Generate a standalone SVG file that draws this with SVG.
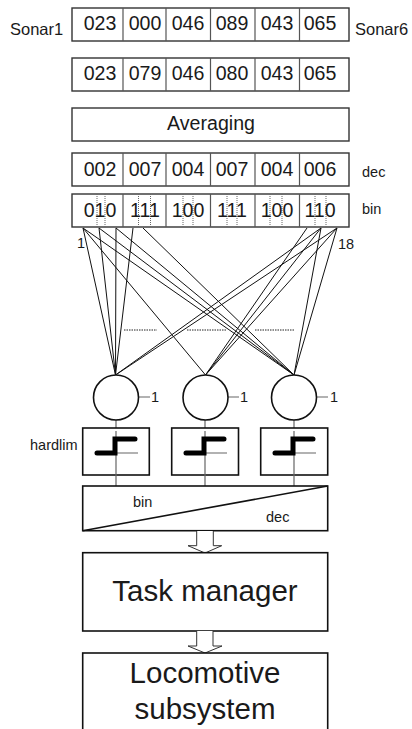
<svg xmlns="http://www.w3.org/2000/svg" width="412" height="729" viewBox="0 0 412 729">
<style>
text{font-family:"Liberation Sans",Arial,sans-serif;fill:#1a1a1a}
.d{font-size:19.600px;text-anchor:middle}
.s{font-size:14.500px}
.l{font-size:29.500px;text-anchor:middle}
.b{fill:#fff;stroke:#333;stroke-width:1.400}
.v{stroke:#555;stroke-width:1.200;fill:none}
.o{stroke:#666;stroke-width:1;stroke-dasharray:1 1;fill:none}
.c{stroke:#111;stroke-width:1;fill:none}
.k{fill:#fff;stroke:#111;stroke-width:1.600}
.g{stroke:#666;stroke-width:1.200;fill:none}
.t{stroke:#000;stroke-width:5;stroke-linecap:round;fill:none}
.a{fill:#fff;stroke:#333;stroke-width:1}
</style>
<g id="connectors">
<path class="c" d="M83 228L115.500 375M99 228L115.500 375M116 228L115.500 375M133 228L115.500 375M321 228L115.500 375M337 228L115.500 375"/>
<path class="c" d="M83 228L205.500 375M307 228L205.500 375M321 228L205.500 375M337 228L205.500 375"/>
<path class="c" d="M83 228L294 375M99 228L294 375M116 228L294 375M143 228L294 375M321 228L294 375M337 228L294 375"/>
<path d="M124 330H157M187 330H226M255 330H295" stroke="#222" stroke-width="1" stroke-dasharray="1.500 1" fill="none"/>
</g>
<g id="sonar-row"><rect class="b" x="72" y="8" width="277" height="33"/><path class="v" d="M123 8V41M166 8V41M210.500 8V41M255 8V41M299.500 8V41"/>
<text class="d" x="100" y="29.500">023</text><text class="d" x="145" y="29.500">000</text><text class="d" x="188" y="29.500">046</text><text class="d" x="232" y="29.500">089</text><text class="d" x="277" y="29.500">043</text><text class="d" x="320" y="29.500">065</text></g>
<text font-size="16.500" x="10" y="35">Sonar1</text>
<text font-size="16.500" x="355" y="35">Sonar6</text>
<g id="filtered-row"><rect class="b" x="72" y="58" width="277" height="33"/><path class="v" d="M123 58V91M166 58V91M210.500 58V91M255 58V91M299.500 58V91"/>
<text class="d" x="100" y="79.500">023</text><text class="d" x="145" y="79.500">079</text><text class="d" x="188" y="79.500">046</text><text class="d" x="232" y="79.500">080</text><text class="d" x="277" y="79.500">043</text><text class="d" x="320" y="79.500">065</text></g>
<g id="averaging"><rect class="b" x="72" y="108" width="277" height="33"/><text class="d" x="211" y="129.500">Averaging</text></g>
<g id="dec-row"><rect class="b" x="72" y="153" width="277" height="33"/><path class="v" d="M123 153V186M166 153V186M210.500 153V186M255 153V186M299.500 153V186"/>
<text class="d" x="100" y="176">002</text><text class="d" x="145" y="176">007</text><text class="d" x="188" y="176">004</text><text class="d" x="232" y="176">007</text><text class="d" x="277" y="176">004</text><text class="d" x="320" y="176">006</text></g>
<text class="s" x="362" y="177">dec</text>
<g id="bin-row"><rect class="b" x="72" y="194" width="277" height="33"/><path class="v" d="M123 194V227M166 194V227M210.500 194V227M255 194V227M299.500 194V227"/>
<path class="o" d="M97 194V227M105 194V227M138.500 194V227M150.500 194V227M183 194V227M193 194V227M227 194V227M237 194V227M270 194V227M282 194V227M315 194V227M326 194V227"/>
<text class="d" x="100" y="217">010</text><text class="d" x="145" y="217">111</text><text class="d" x="188" y="217">100</text><text class="d" x="232" y="217">111</text><text class="d" x="277" y="217">100</text><text class="d" x="320" y="217">110</text></g>
<text class="s" x="362" y="214">bin</text>
<text class="s" x="77" y="248">1</text>
<text class="s" x="338" y="249">18</text>
<g id="neuron-1"><path class="g" d="M116 420V428M139 397H150"/><circle class="k" cx="116" cy="397.500" r="22.500"/><text class="s" x="151" y="402">1</text></g>
<g id="neuron-2"><path class="g" d="M205 420V428M228 397H239"/><circle class="k" cx="205.500" cy="397.500" r="22.500"/><text class="s" x="240" y="402">1</text></g>
<g id="neuron-3"><path class="g" d="M294 420V428M317 397H328"/><circle class="k" cx="294" cy="397.500" r="22.500"/><text class="s" x="330" y="402">1</text></g>
<g id="hardlim-1"><rect class="k" x="82.700" y="428" width="66.600" height="47"/><path class="g" d="M116 431V486M116 453H138"/><path class="t" d="M97 453H115V439H135"/></g>
<g id="hardlim-2"><rect class="k" x="171.700" y="428" width="66.800" height="47"/><path class="g" d="M205 431V486M205 453H227"/><path class="t" d="M186 453H204V439H224"/></g>
<g id="hardlim-3"><rect class="k" x="260.700" y="428" width="67" height="47"/><path class="g" d="M294 431V486M294 453H316"/><path class="t" d="M275 453H293V439H313"/></g>
<text class="s" x="30" y="450">hardlim</text>
<g id="converter"><rect class="k" x="82.700" y="486" width="245" height="44.700"/><path class="k" d="M82.700 530.700L327.700 486" fill="none"/><text class="s" x="133" y="506.500">bin</text><text class="s" x="266" y="522">dec</text></g>
<g id="arrow-1"><path class="a" d="M196.700 531V545.700H188L205 553L221.700 545.700H213.300V531"/></g>
<g id="task-manager"><rect class="k" x="82.700" y="552.700" width="245" height="78.300"/><text class="l" x="205" y="600.700">Task manager</text></g>
<g id="arrow-2"><path class="a" d="M196.700 631V646H188L205 653L222 646H213V631"/></g>
<g id="locomotive"><rect class="k" x="82.700" y="653" width="245" height="90"/><text class="l" x="205" y="682.700">Locomotive</text><text class="l" x="205" y="719">subsystem</text></g>
</svg>
